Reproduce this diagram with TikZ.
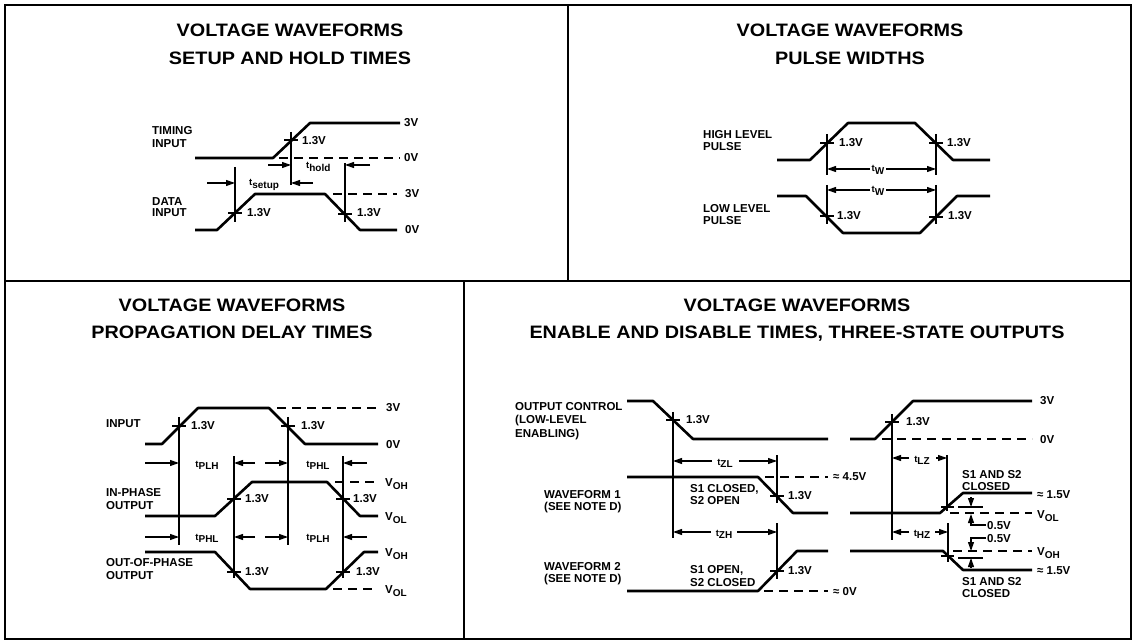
\documentclass[tikz,border=0pt]{standalone}
\usepackage{fontspec}
\setmainfont{Liberation Sans}
\newfontfamily\ttlfont{Liberation Sans}[FakeStretch=1.1]
\usetikzlibrary{arrows.meta}
\newcommand\tsb[2]{{\fontsize{9.5}{9.5}\selectfont #1}\raisebox{-2.5pt}{\fontsize{10}{10}\selectfont #2}}
\newcommand\vsb[1]{V\raisebox{-3pt}{\fontsize{10}{10}\selectfont #1}}
\begin{document}
\begin{tikzpicture}[x=1pt,y=-1pt,
  frame/.style={line width=1.4pt},
  wave/.style={line width=2.6pt,line join=round},
  ext/.style={line width=1.1pt},
  refl/.style={line width=1.5pt,dash pattern=on 9pt off 6pt},
  arr/.style={line width=1.1pt,-{Triangle[length=9pt,width=6pt]}},
  lbl/.style={font=\fontsize{11.5}{11.5}\selectfont\bfseries,inner sep=0pt,anchor=base west},
  tlb/.style={font=\fontsize{11.5}{11.5}\selectfont\bfseries,inner sep=0pt,anchor=base},
  ttl/.style={font=\fontsize{18}{18}\selectfont\ttlfont\bfseries,inner sep=0pt,anchor=base}]
\useasboundingbox[fill=white] (0,0) rectangle (1136,644);
% frame and dividers
\draw[frame] (5,5) rectangle (1131,639);
\draw[frame] (5,281) -- (1131,281);
\draw[frame] (568,5) -- (568,281);
\draw[frame] (464,281) -- (464,639);

% ===== Panel 1: setup and hold =====
\node[ttl] (t1a) at (290,37) {VOLTAGE WAVEFORMS};
\node[ttl] (t1b) at (290,65) {SETUP AND HOLD TIMES};
\draw[wave] (195,158) -- (273,158) -- (310,123) -- (400,123);
\draw[refl] (279,158) -- (400,158);
\draw[wave] (195,230) -- (217,230) -- (255,194) -- (325,194) -- (360,230) -- (397,230);
\draw[refl] (333,194) -- (397,194);
\draw[ext] (291,132) -- (291,185);
\draw[ext] (284,140) -- (298,140);
\draw[ext] (235,167) -- (235,222);
\draw[ext] (228,213) -- (242,213);
\draw[ext] (345,163) -- (345,222);
\draw[ext] (338,214) -- (352,214);
\draw[arr] (268,165) -- (291,165);
\draw[arr] (370,165) -- (345,165);
\draw[arr] (207,183) -- (235,183);
\draw[arr] (313,183) -- (291,183);
\node[lbl] (p1a) at (152,135) {TIMING};
\node[lbl] (p1b) at (152,148) {INPUT};
\node[lbl] (p1c) at (152,206) {DATA};
\node[lbl] (p1d) at (152,217) {INPUT};
\node[lbl] (p1e) at (302,145) {1.3V};
\node[lbl] (p1f) at (247,217) {1.3V};
\node[lbl] (p1g) at (357,217) {1.3V};
\node[lbl] (p1h) at (404,127) {3V};
\node[lbl] (p1i) at (404,162) {0V};
\node[lbl] (p1j) at (405,198) {3V};
\node[lbl] (p1k) at (405,234) {0V};
\node[lbl] (p1l) at (306,169) {\tsb{t}{hold}};
\node[lbl] (p1m) at (249,186) {\tsb{t}{setup}};

% ===== Panel 2: pulse widths =====
\node[ttl] (t2a) at (850,37) {VOLTAGE WAVEFORMS};
\node[ttl] (t2b) at (850,65) {PULSE WIDTHS};
\draw[wave] (777,160) -- (810,160) -- (848,123) -- (915,123) -- (953,160) -- (990,160);
\draw[wave] (777,196) -- (806,196) -- (843,233) -- (920,233) -- (957,196) -- (990,196);
\draw[ext] (827,134) -- (827,175);
\draw[ext] (936,134) -- (936,175);
\draw[ext] (827,185) -- (827,224);
\draw[ext] (936,185) -- (936,224);
\draw[ext] (820,143) -- (834,143);
\draw[ext] (929,143) -- (943,143);
\draw[ext] (820,216) -- (834,216);
\draw[ext] (929,217) -- (943,217);
\draw[arr] (870,169) -- (827,169);
\draw[arr] (886,169) -- (936,169);
\draw[arr] (870,190) -- (827,190);
\draw[arr] (886,190) -- (936,190);
\node[tlb] (p2a) at (878,172) {\tsb{t}{W}};
\node[tlb] (p2b) at (878,193) {\tsb{t}{W}};
\node[lbl] (p2c) at (703,139) {HIGH LEVEL};
\node[lbl] (p2d) at (703,151) {PULSE};
\node[lbl] (p2e) at (703,213) {LOW LEVEL};
\node[lbl] (p2f) at (703,225) {PULSE};
\node[lbl] (p2g) at (839,147) {1.3V};
\node[lbl] (p2h) at (947,147) {1.3V};
\node[lbl] (p2i) at (837,220) {1.3V};
\node[lbl] (p2j) at (948,220) {1.3V};

% ===== Panel 3: propagation delay =====
\node[ttl] (t3a) at (232,312) {VOLTAGE WAVEFORMS};
\node[ttl] (t3b) at (232,339) {PROPAGATION DELAY TIMES};
\draw[wave] (145,444) -- (162,444) -- (198,408) -- (269,408) -- (305,444) -- (378,444);
\draw[refl] (277,408) -- (378,408);
\draw[wave] (145,516) -- (215,516) -- (252,482) -- (327,482) -- (360,516) -- (378,516);
\draw[refl] (335,482) -- (378,482);
\draw[wave] (145,552) -- (215,552) -- (250,589) -- (326,589) -- (364,552) -- (378,552);
\draw[refl] (333,589) -- (378,589);
\draw[ext] (179,417) -- (179,545);
\draw[ext] (288,417) -- (288,545);
\draw[ext] (234,456) -- (234,578);
\draw[ext] (343,456) -- (343,578);
\draw[ext] (172,426) -- (186,426);
\draw[ext] (281,426) -- (295,426);
\draw[ext] (227,499) -- (241,499);
\draw[ext] (336,499) -- (350,499);
\draw[ext] (227,572) -- (241,572);
\draw[ext] (336,572) -- (350,572);
\draw[arr] (145,463) -- (179,463);
\draw[arr] (255,463) -- (234,463);
\draw[arr] (265,463) -- (288,463);
\draw[arr] (367,463) -- (343,463);
\draw[arr] (145,537) -- (179,537);
\draw[arr] (255,537) -- (234,537);
\draw[arr] (265,537) -- (288,537);
\draw[arr] (367,537) -- (343,537);
\node[tlb] (p3a) at (207,467) {\tsb{t}{PLH}};
\node[tlb] (p3b) at (318,467) {\tsb{t}{PHL}};
\node[tlb] (p3c) at (207,540) {\tsb{t}{PHL}};
\node[tlb] (p3d) at (318,540) {\tsb{t}{PLH}};
\node[lbl] (p3e) at (106,428) {INPUT};
\node[lbl] (p3f) at (106,496) {IN-PHASE};
\node[lbl] (p3g) at (106,509) {OUTPUT};
\node[lbl] (p3h) at (106,566) {OUT-OF-PHASE};
\node[lbl] (p3i) at (106,579) {OUTPUT};
\node[lbl] (p3j) at (191,429) {1.3V};
\node[lbl] (p3k) at (301,429) {1.3V};
\node[lbl] (p3l) at (245,502) {1.3V};
\node[lbl] (p3m) at (353,502) {1.3V};
\node[lbl] (p3n) at (245,575) {1.3V};
\node[lbl] (p3o) at (356,575) {1.3V};
\node[lbl] (p3p) at (386,412) {3V};
\node[lbl] (p3q) at (386,448) {0V};
\node[lbl] (p3r) at (385,486) {\vsb{OH}};
\node[lbl] (p3s) at (385,520) {\vsb{OL}};
\node[lbl] (p3t) at (385,556) {\vsb{OH}};
\node[lbl] (p3u) at (385,593) {\vsb{OL}};

% ===== Panel 4: enable / disable =====
\node[ttl] (t4a) at (797,312) {VOLTAGE WAVEFORMS};
\node[ttl] (t4b) at (797,339) {ENABLE AND DISABLE TIMES, THREE-STATE OUTPUTS};
\draw[wave] (627,401) -- (653,401) -- (693,439) -- (828,439);
\draw[wave] (850,439) -- (875,439) -- (913,401) -- (1032,401);
\draw[refl] (882,439) -- (1032,439);
\draw[wave] (627,477) -- (758,477) -- (793,513) -- (828,513);
\draw[refl] (765,477) -- (828,477);
\draw[wave] (850,513) -- (940,513) -- (963,493) -- (1032,493);
\draw[refl] (950,513) -- (1032,513);
\draw[wave] (627,591) -- (758,591) -- (797,551) -- (828,551);
\draw[refl] (764,591) -- (828,591);
\draw[wave] (850,551) -- (943,551) -- (963,570) -- (1032,570);
\draw[refl] (953,551) -- (1032,551);
% extension lines and ticks
\draw[ext] (673,412) -- (673,538);
\draw[ext] (892,414) -- (892,540);
\draw[ext] (777,455) -- (777,503);
\draw[ext] (777,523) -- (777,579);
\draw[ext] (947,455) -- (947,511);
\draw[ext] (948,523) -- (948,562);
\draw[ext] (666,420) -- (680,420);
\draw[ext] (885,422) -- (899,422);
\draw[ext] (770,496) -- (784,496);
\draw[ext] (770,571) -- (784,571);
\draw[ext] (941,507) -- (954,507);
\draw[ext] (941,556) -- (954,556);
\draw[ext] (958,507) -- (983,507);
\draw[ext] (958,558) -- (983,558);
% 0.5 V dimension arrows
\draw[arr] (971,497) -- (971,507);
\draw[arr] (986,525) -- (971,525) -- (971,514);
\draw[arr] (986,538) -- (971,538) -- (971,551);
\draw[arr] (971,568) -- (971,558);
% timing arrows
\draw[arr] (712,461) -- (673,461);
\draw[arr] (739,461) -- (777,461);
\draw[arr] (711,532) -- (673,532);
\draw[arr] (737,532) -- (777,532);
\draw[arr] (909,458) -- (892,458);
\draw[arr] (936,458) -- (947,458);
\draw[arr] (909,532) -- (892,532);
\draw[arr] (935,532) -- (948,532);
\node[tlb] (p4a) at (725,465) {\tsb{t}{ZL}};
\node[tlb] (p4b) at (724,536) {\tsb{t}{ZH}};
\node[tlb] (p4c) at (922,462) {\tsb{t}{LZ}};
\node[tlb] (p4d) at (922,536) {\tsb{t}{HZ}};
% labels
\node[lbl] (p4e) at (515,410) {OUTPUT CONTROL};
\node[lbl] (p4f) at (515,424) {(LOW-LEVEL};
\node[lbl] (p4g) at (515,438) {ENABLING)};
\node[lbl] (p4h) at (544,498) {WAVEFORM 1};
\node[lbl] (p4i) at (544,510) {(SEE NOTE D)};
\node[lbl] (p4j) at (544,570) {WAVEFORM 2};
\node[lbl] (p4k) at (544,582) {(SEE NOTE D)};
\node[lbl] (p4l) at (690,492) {S1 CLOSED,};
\node[lbl] (p4m) at (690,504) {S2 OPEN};
\node[lbl] (p4n) at (690,573) {S1 OPEN,};
\node[lbl] (p4o) at (690,586) {S2 CLOSED};
\node[lbl] (p4p) at (686,424) {1.3V};
\node[lbl] (p4q) at (906,425) {1.3V};
\node[lbl] (p4r) at (788,499) {1.3V};
\node[lbl] (p4s) at (788,574) {1.3V};
\node[lbl] (p4t) at (1040,405) {3V};
\node[lbl] (p4u) at (1040,443) {0V};
\node[lbl] (p4v) at (833,480) {≈ 4.5V};
\node[lbl] (p4w) at (833,595) {≈ 0V};
\node[lbl] (p4x) at (962,478) {S1 AND S2};
\node[lbl] (p4y) at (962,490) {CLOSED};
\node[lbl] (p4z) at (1037,498) {≈ 1.5V};
\node[lbl] (q4a) at (1037,518) {\vsb{OL}};
\node[lbl] (q4b) at (987,529) {0.5V};
\node[lbl] (q4c) at (987,542) {0.5V};
\node[lbl] (q4d) at (1037,555) {\vsb{OH}};
\node[lbl] (q4e) at (1037,574) {≈ 1.5V};
\node[lbl] (q4f) at (962,585) {S1 AND S2};
\node[lbl] (q4g) at (962,597) {CLOSED};
\end{tikzpicture}
\end{document}
